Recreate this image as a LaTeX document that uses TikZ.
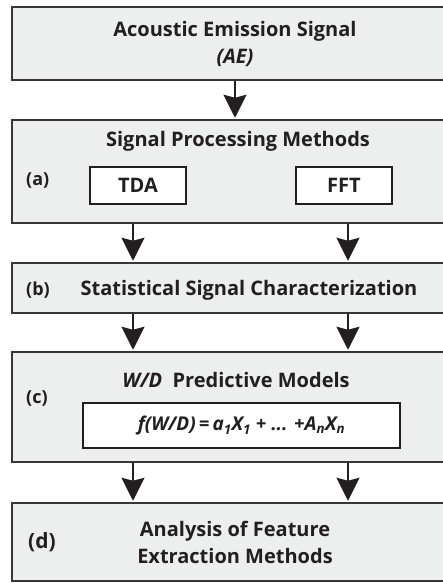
\documentclass[tikz,border=0pt]{standalone}
\usepackage{fontspec}
\setmainfont{Open Sans}
\usetikzlibrary{arrows.meta,calc,positioning}
\definecolor{stagefill}{HTML}{EDEEEE}
\definecolor{ink}{HTML}{231F20}
\tikzstyle{arrow} = [draw=ink, line width=2pt, -{Stealth[length=23pt,width=23pt,inset=3pt]}, shorten >=1pt]
\tikzstyle{stage} = [rectangle, draw=ink!90, line width=2.5pt, fill=stagefill, minimum width=446pt, inner sep=0pt, align=center, text=ink, font={\fontsize{20}{27}\selectfont\bfseries}]
\tikzstyle{method} = [rectangle, draw=ink, line width=2pt, fill=white, inner sep=0pt, text=ink, font={\fontsize{20}{22}\selectfont\bfseries}]
\tikzstyle{title} = [text=ink, inner sep=0pt, font={\fontsize{20}{22}\selectfont\bfseries}]
\tikzstyle{tag} = [anchor=west, text=ink, inner sep=0pt, font={\fontsize{18}{20}\selectfont\bfseries}]

\begin{document}
\begin{tikzpicture}[x=1pt, y=-1pt]
  \useasboundingbox (0,0) rectangle (443,583);
  \clip (0,0) rectangle (443,583);
  \node [stage, minimum height=73pt] at (235,43.5) (signal)
    {Acoustic Emission Signal\\\textit{(AE)}};
  \node [stage, minimum height=103pt] at (235,171.5) (processing) {};
  \node [title] at (238,141) (processingtitle) {Signal Processing Methods};
  \node [method, minimum width=96pt, minimum height=37pt] at (138,185.5) (tda) {TDA};
  \node [method, minimum width=96pt, minimum height=37pt] at (344,185.5) (fft) {FFT};
  \node [tag] at (26,180) (taga) {(a)};
  \node [stage, minimum height=50pt] at (235,288) (statistics) {};
  \node [title] at (249,290) (statisticstitle) {Statistical Signal Characterization};
  \node [tag] at (26,290) (tagb) {(b)};
  \node [stage, minimum height=110pt] at (235,407) (models) {};
  \node [title] at (236,380) (modelstitle) {\textit{W/D}\ \ Predictive Models};
  \node [tag] at (26,398) (tagc) {(c)};
  \node [method, minimum width=317pt, minimum height=45pt,
    font={\fontsize{19}{22}\selectfont\bfseries}] at (241.5,425.5) (formula)
    {\textit{f(W/D)\,=\,a\textsubscript{1}X\textsubscript{1} + ... +A\textsubscript{n}X\textsubscript{n}}};
  \node [stage, minimum height=78pt] at (235,542) (analysis)
    {Analysis of Feature\\Extraction Methods};
  \node [tag, font={\fontsize{21}{22}\selectfont\bfseries}] at (28,542) (tagd) {(d)};

  \coordinate (left) at (133,0);
  \coordinate (right) at (348,0);
  \path [arrow] (signal) -- (processing);
  \foreach \u/\v in {processing/statistics, statistics/models, models/analysis} {
    \path [arrow] (\u.south -| left) -- (\v.north -| left);
    \path [arrow] (\u.south -| right) -- (\v.north -| right);
  }
\end{tikzpicture}
\end{document}
